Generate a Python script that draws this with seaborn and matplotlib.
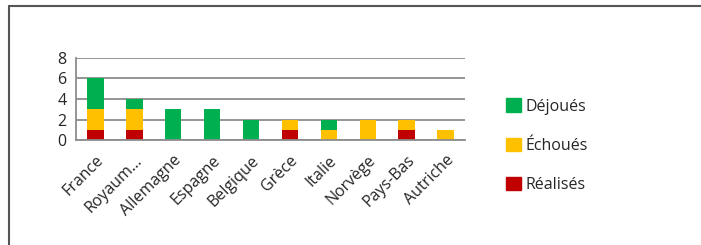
import matplotlib
matplotlib.use("Agg")
import matplotlib.pyplot as plt
import seaborn as sns
import numpy as np
from matplotlib.lines import Line2D
from matplotlib.patches import Patch

# data
pays = ["France", "Royaum...", "Allemagne", "Espagne", "Belgique",
        "Grèce", "Italie", "Norvège", "Pays-Bas", "Autriche"]
realises = [1, 1, 0, 0, 0, 1, 0, 0, 1, 0]
echoues = [2, 2, 0, 0, 0, 1, 1, 2, 1, 1]
dejoues = [3, 1, 3, 3, 2, 0, 1, 0, 0, 0]

c_real = "#C00000"
c_echo = "#FFC000"
c_dejo = "#00B050"

sns.set_style("white")
plt.rcParams["font.family"] = ["Open Sans", "DejaVu Sans"]

fig = plt.figure(figsize=(7.01, 2.45), dpi=100)
ax = fig.add_axes([76/701, 105/245, 389/701, 82/245])

r = np.array(realises)
e = np.array(echoues)
sns.barplot(x=pays, y=realises, color=c_real, width=0.42, ax=ax,
            saturation=1, linewidth=0)
sns.barplot(x=pays, y=echoues, bottom=r, color=c_echo, width=0.42, ax=ax,
            saturation=1, linewidth=0)
sns.barplot(x=pays, y=dejoues, bottom=r + e, color=c_dejo, width=0.42, ax=ax,
            saturation=1, linewidth=0)

ax.set_xlim(-0.5, 9.5)
ax.set_ylim(0, 8)
ax.set_yticks([0, 2, 4, 6, 8])
ax.yaxis.grid(True, color="#8c8c8c", lw=1.3)
ax.set_axisbelow(True)
for s in ["top", "right"]:
    ax.spines[s].set_visible(False)
for s in ["left", "bottom"]:
    ax.spines[s].set_color("#8c8c8c")
    ax.spines[s].set_linewidth(1.3)
ax.tick_params(axis="y", length=4, color="#8c8c8c", labelsize=11.5, pad=3)
ax.tick_params(axis="x", which="major", length=0, labelsize=11.5, pad=9)
ax.set_xticks(np.arange(-0.5, 10, 1), minor=True)
ax.tick_params(axis="x", which="minor", length=5, color="#8c8c8c", width=1.2)
plt.setp(ax.get_xticklabels(), rotation=45, ha="right", rotation_mode="anchor")
ax.set_xlabel("")
ax.set_ylabel("")

handles = [Patch(color=c_dejo), Patch(color=c_echo), Patch(color=c_real)]
fig.legend(handles, ["Déjoués", "Échoués", "Réalisés"],
           loc="upper left", bbox_to_anchor=(492/701, 1 - 84/245),
           frameon=False, fontsize=11.5, handlelength=0.9, handleheight=0.9,
           handletextpad=0.3, labelspacing=1.45)

# frame lines (left and top)
fig.add_artist(Line2D([9/701, 9/701], [0, 1 - 6/245], color="#555555", lw=1.5))
fig.add_artist(Line2D([9/701, 1], [1 - 6/245, 1 - 6/245], color="#555555", lw=1.5))

fig.savefig("out.png", dpi=100)
